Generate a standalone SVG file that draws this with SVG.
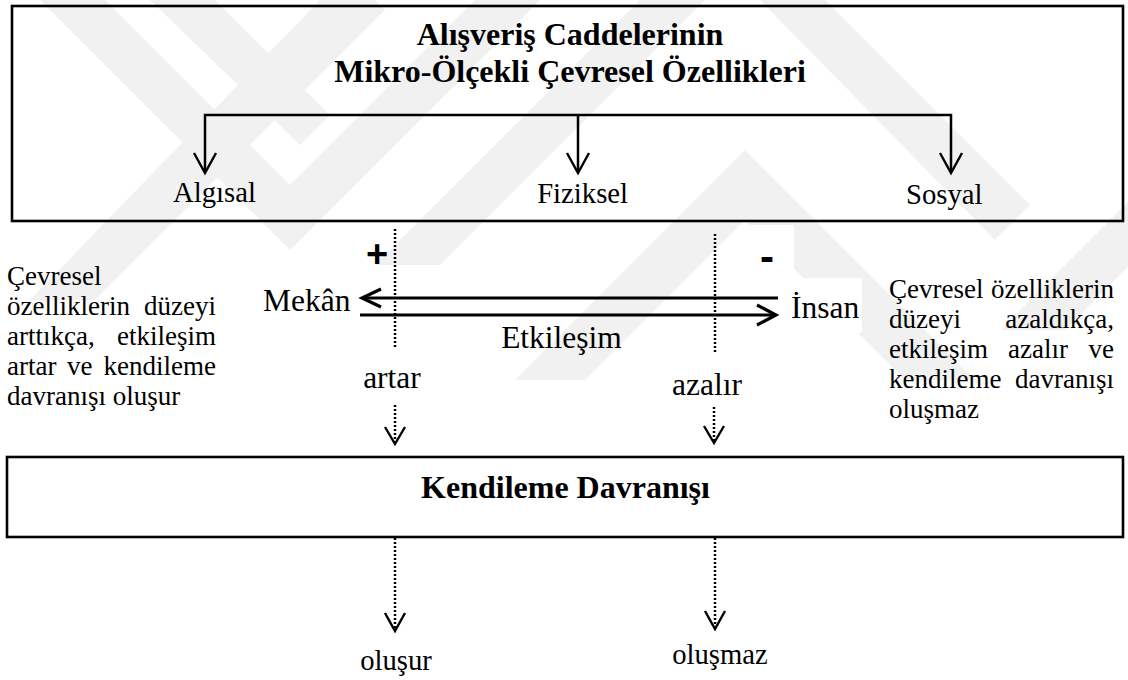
<svg xmlns="http://www.w3.org/2000/svg" width="1128" height="680" viewBox="0 0 1128 680">
<defs>
<style>
.t{font-family:"Liberation Serif","Times New Roman",serif;fill:#000}
.b{font-weight:bold;font-size:32px}
.lab{font-size:28.7px}
.mid{font-size:31.5px}
.body{font-size:27px}
.sg{font-family:"Liberation Sans",Arial,sans-serif;font-weight:bold;fill:#000}
.box{fill:none;stroke:#000;stroke-width:2.6}
.ln{fill:none;stroke:#000;stroke-width:2.5}
.arr{fill:none;stroke:#000;stroke-width:2.4;stroke-linejoin:miter}
.har{fill:none;stroke:#000;stroke-width:3.2}
.dot{fill:none;stroke:#000;stroke-width:2.5;stroke-dasharray:2 2}
.wm{fill:#f1f1f1}
</style>
</defs>
<rect width="1128" height="680" fill="#fff"/>
<g id="watermark">
<polygon class="wm" points="40,0 105,0 290,185 475,0 540,0 290,250"/>
<polygon class="wm" points="150,0 215,0 330,115 300,145"/>
<polygon class="wm" points="30,300 95,300 385,10 355,-20 320,0"/>
<polygon class="wm" points="640,0 705,0 440,265 375,265"/>
<polygon class="wm" points="745,150 975,380 905,380 745,220 585,380 515,380"/>
<polygon class="wm" points="760,0 825,0 1030,205 995,240"/>
<polygon class="wm" points="1000,330 1065,330 1128,267 1128,202"/>
</g>
<rect x="219" y="272" width="140" height="53" fill="#fff"/>
<rect x="737" y="225" width="57" height="53" fill="#fff"/>
<rect x="755" y="278" width="107" height="55" fill="#fff"/>
<g id="top-box">
<rect class="box" x="12" y="6" width="1111" height="215"/>
<text class="t b" x="570" y="45" text-anchor="middle">Alışveriş Caddelerinin</text>
<text class="t b" x="570" y="82" text-anchor="middle">Mikro-Ölçekli Çevresel Özellikleri</text>
</g>
<g id="algisal"><text class="t lab" x="173" y="202">Algısal</text></g>
<g id="fiziksel"><text class="t lab" x="628" y="203" text-anchor="end">Fiziksel</text></g>
<g id="sosyal"><text class="t lab" x="906" y="204">Sosyal</text></g>
<g id="mekan"><text class="t mid" x="263" y="311">Mekân</text></g>
<g id="insan"><text class="t mid" x="791" y="318">İnsan</text></g>
<g id="etkilesim"><text class="t mid" x="561.5" y="348" text-anchor="middle">Etkileşim</text></g>
<g id="plus"><text class="sg" x="377" y="267" text-anchor="middle" font-size="38">+</text></g>
<g id="minus"><text class="sg" x="767" y="271" text-anchor="middle" font-size="42">-</text></g>
<g id="artar"><text class="t mid" x="392" y="388" text-anchor="middle">artar</text></g>
<g id="azalir"><text class="t mid" x="707" y="395" text-anchor="middle">azalır</text></g>
<g id="left-note" class="t body">
<text x="7" y="285">Çevresel</text>
<text x="7" y="315">özelliklerin</text><text x="216" y="315" text-anchor="end">düzeyi</text>
<text x="7" y="345">arttıkça,</text><text x="216" y="345" text-anchor="end">etkileşim</text>
<text x="7" y="375">artar</text><text x="67" y="375">ve</text><text x="216" y="375" text-anchor="end">kendileme</text>
<text x="7" y="405">davranışı oluşur</text>
</g>
<g id="right-note" class="t body">
<text x="889" y="298">Çevresel</text><text x="1114" y="298" text-anchor="end">özelliklerin</text>
<text x="889" y="328">düzeyi</text><text x="1114" y="328" text-anchor="end">azaldıkça,</text>
<text x="889" y="358">etkileşim</text><text x="1008" y="358">azalır</text><text x="1114" y="358" text-anchor="end">ve</text>
<text x="889" y="388">kendileme</text><text x="1114" y="388" text-anchor="end">davranışı</text>
<text x="889" y="418">oluşmaz</text>
</g>
<g id="bottom-box">
<rect class="box" x="7" y="457" width="1116" height="80"/>
<text class="t b" x="565.5" y="498" text-anchor="middle">Kendileme Davranışı</text>
</g>
<g id="olusur"><text class="t lab" x="396" y="670" text-anchor="middle">oluşur</text></g>
<g id="olusmaz"><text class="t lab" x="720" y="664" text-anchor="middle">oluşmaz</text></g>
<g id="connectors">
<polyline class="ln" points="205,172 205,115 951,115 951,172"/>
<line class="ln" x1="578" y1="115" x2="578" y2="172"/>
<polyline class="arr" points="194,153 205,173 216,153"/>
<polyline class="arr" points="567,153 578,173 589,153"/>
<polyline class="arr" points="940,153 951,173 962,153"/>
<line class="har" x1="362" y1="298" x2="778" y2="298"/>
<polyline class="har" points="381,289 362,298 381,307"/>
<line class="har" x1="360" y1="315" x2="774" y2="315"/>
<polyline class="har" points="757,305 776,315 757,325"/>
<line class="dot" x1="395" y1="229" x2="395" y2="349"/>
<line class="dot" x1="715" y1="234" x2="715" y2="353"/>
<line class="dot" x1="395" y1="405" x2="395" y2="443"/>
<polyline class="arr" points="385,427 395,444 405,427" stroke-width="2"/>
<line class="dot" x1="714" y1="407" x2="714" y2="442"/>
<polyline class="arr" points="704,426 714,443 724,426" stroke-width="2"/>
<line class="dot" x1="395" y1="538" x2="395" y2="630"/>
<polyline class="arr" points="385,613 395,631 405,613" stroke-width="2"/>
<line class="dot" x1="715" y1="538" x2="715" y2="628"/>
<polyline class="arr" points="705,611 715,629 725,611" stroke-width="2"/>
</g>
</svg>
